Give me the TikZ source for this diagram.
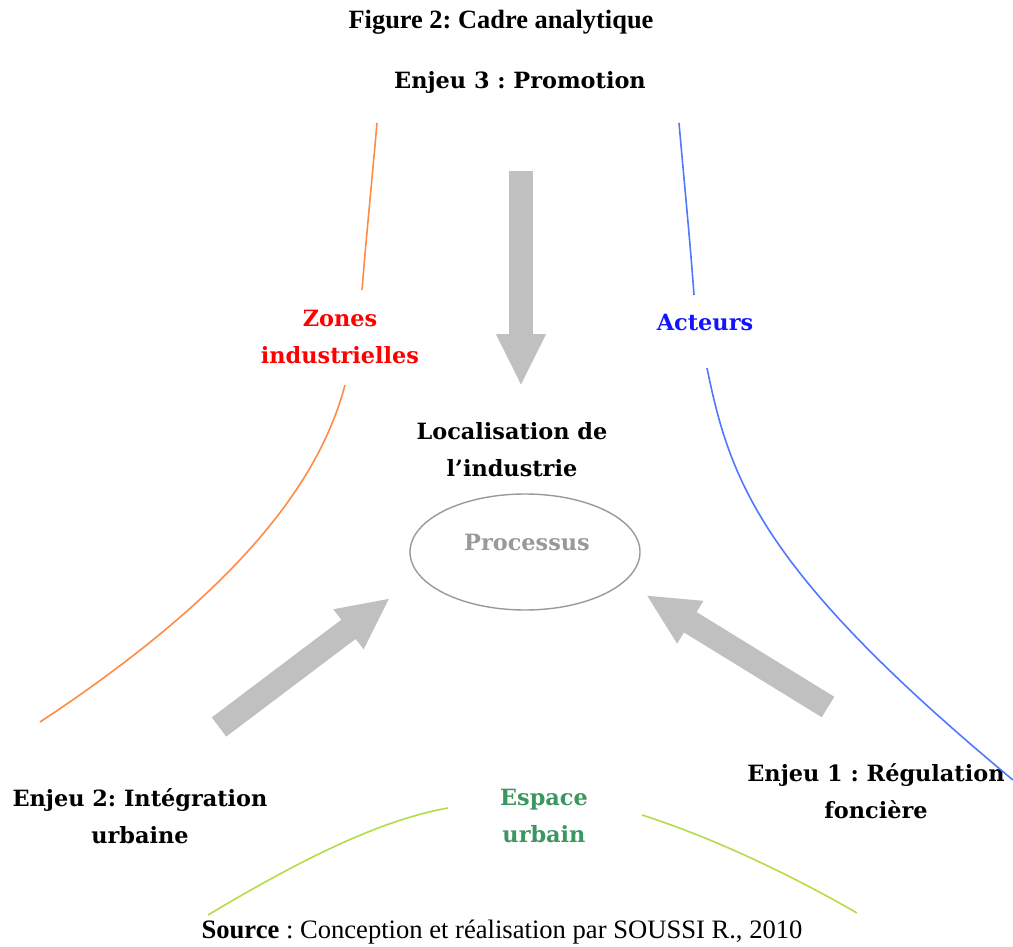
\documentclass[tikz,border=0pt]{standalone}
\usepackage{fontspec}
\setmainfont{Liberation Serif}
\newfontfamily\labelfont{DejaVu Serif}
\usetikzlibrary{arrows.meta,shapes.geometric,positioning}
\frenchspacing
\definecolor{orangeline}{RGB}{255,140,70}
\definecolor{blueline}{RGB}{80,120,255}
\definecolor{greenline}{RGB}{180,220,70}
\definecolor{arrowgray}{RGB}{192,192,192}
\definecolor{zonered}{RGB}{255,0,0}
\definecolor{acteurblue}{RGB}{20,20,255}
\definecolor{espacegreen}{RGB}{60,150,95}
\tikzset{
  lab/.style={font=\labelfont\bfseries\fontsize{11.2}{18.5}\selectfont, align=center, inner sep=0pt},
  bigarrow/.style={draw=arrowgray, line width=12pt, -{Triangle[width=23pt,length=26pt]}},
  curve/.style={line width=0.8pt},
}
\begin{document}
\begin{tikzpicture}[x=0.5pt,y=-0.5pt]
\useasboundingbox (0,0) rectangle (1013,947);
% titre et source
\node (titre) at (501,22) [font=\bfseries\fontsize{13.2}{15}\selectfont, inner sep=0pt] {Figure 2: Cadre analytique};
\node (source) at (502,932) [font=\fontsize{13.3}{15}\selectfont, inner sep=0pt] {\textbf{Source} : Conception et réalisation par SOUSSI R., 2010};
% les enjeux
\node (enjeu3) at (520,82) [lab] {Enjeu 3 : Promotion};
\node (enjeu2) at (140,816) [lab] {Enjeu 2: Intégration\\urbaine};
\node (enjeu1) at (876,791) [lab] {Enjeu 1 : Régulation\\foncière};
\node (zones) at (340,337) [lab, text=zonered] {Zones\\industrielles};
\node (acteurs) at (705,322) [lab, text=acteurblue] {Acteurs};
\node (espace) at (544,816) [lab, text=espacegreen] {Espace\\urbain};
\node (local) at (512,450) [lab] {Localisation de\\l’industrie};
% le processus
\node (proc) at (525,552) [ellipse, draw=gray!80, line width=0.7pt, minimum width=115pt, minimum height=58pt] {};
\node (proctxt) at (527,542) [lab, text=gray!80] {Processus};
% fleches
\coordinate (haut) at (521,171);   \coordinate (hautpt) at (521,386);
\coordinate (gauche) at (219,727); \coordinate (gauchept) at (390,598);
\coordinate (droite) at (828,707); \coordinate (droitept) at (646,595);
\draw [bigarrow] (haut) -- (hautpt);
\draw [bigarrow] (gauche) -- (gauchept);
\draw [bigarrow] (droite) -- (droitept);
% courbes
\draw [curve, orangeline] (377,123) .. controls (372,180) and (366,240) .. (362,290);
\draw [curve, orangeline] (345,385) .. controls (320,480) and (240,590) .. (40,722);
\draw [curve, blueline] (679,123) .. controls (684,180) and (690,240) .. (694,295);
\draw [curve, blueline] (707,368) .. controls (730,480) and (760,570) .. (1013,780);
\draw [curve, greenline] (208,915) .. controls (300,860) and (380,820) .. (448,808);
\draw [curve, greenline] (642,815) .. controls (720,840) and (800,880) .. (857,913);
\end{tikzpicture}
\end{document}
